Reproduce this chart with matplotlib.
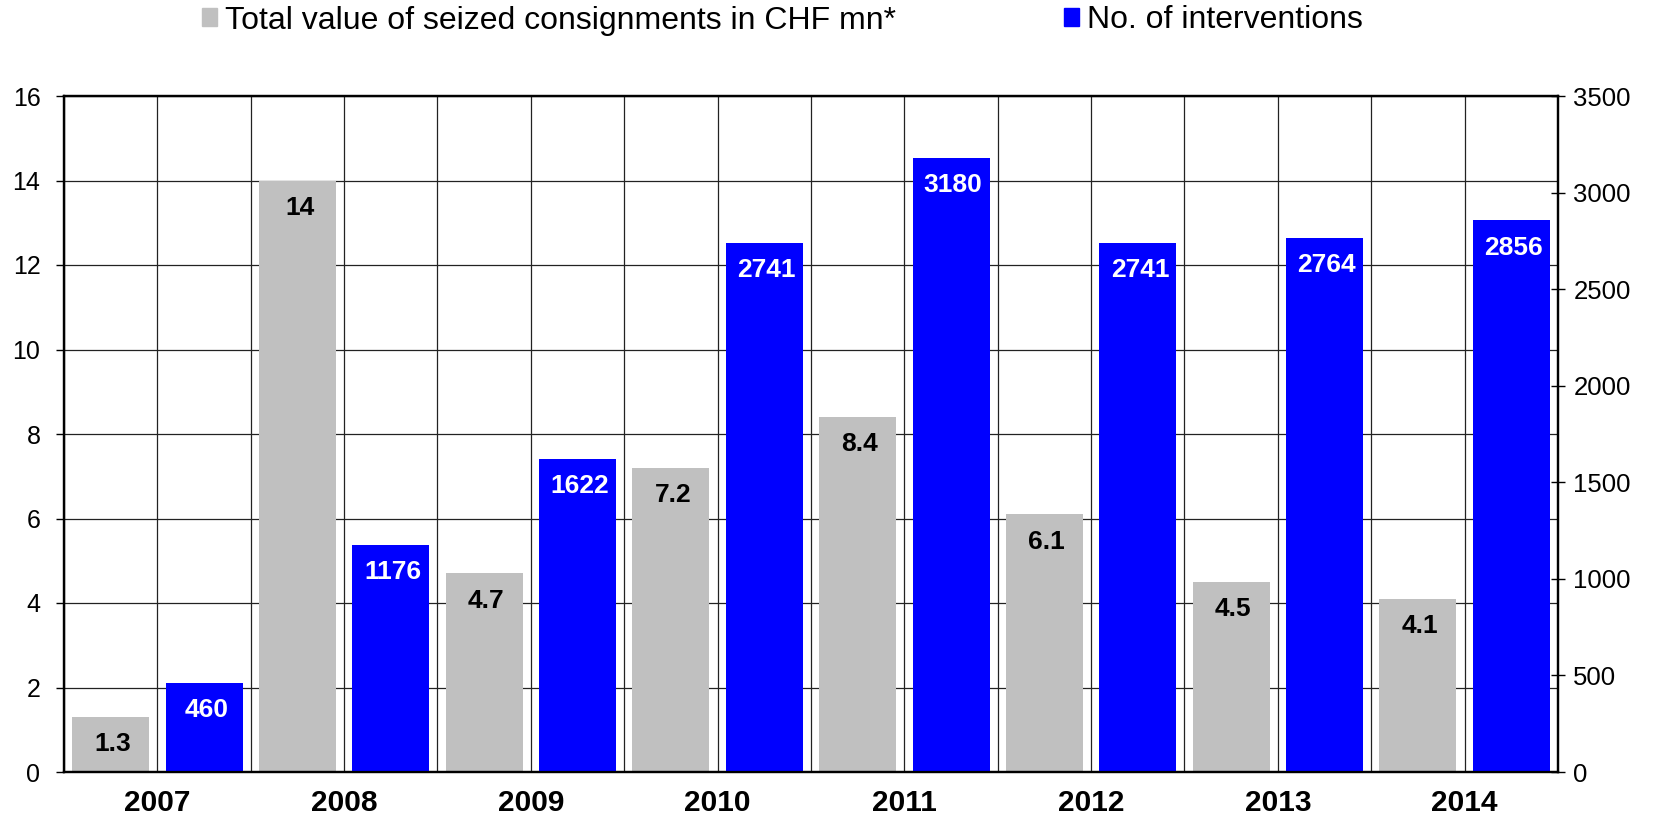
import numpy as np
import matplotlib
matplotlib.use('Agg')
import matplotlib.pyplot as plt
from matplotlib.patches import Patch

plt.rcParams['font.family'] = ['Liberation Sans', 'DejaVu Sans']

years = ['2007', '2008', '2009', '2010', '2011', '2012', '2013', '2014']
seized_value = [1.3, 14, 4.7, 7.2, 8.4, 6.1, 4.5, 4.1]
seized_labels = ['1.3', '14', '4.7', '7.2', '8.4', '6.1', '4.5', '4.1']
interventions = [460, 1176, 1622, 2741, 3180, 2741, 2764, 2856]

gray = '#c0c0c0'
blue = '#0000ff'

fig = plt.figure(figsize=(16.56, 8.17), dpi=100)
ax = fig.add_axes([64 / 1656, 1 - 772 / 817, 1494 / 1656, 676 / 817])
ax2 = ax.twinx()

x = np.arange(len(years))
w = 0.412

ax.bar(x - 0.25, seized_value, width=w, color=gray, zorder=2)
ax2.bar(x + 0.25, interventions, width=w, color=blue, zorder=2)

for xi, v, s in zip(x, seized_value, seized_labels):
    ax.annotate(s, (xi - 0.25, v), xytext=(1.5, -11), textcoords='offset points',
                ha='center', va='top', fontsize=19, fontweight='bold', color='black', zorder=3)
for xi, v in zip(x, interventions):
    ax2.annotate(str(v), (xi + 0.25, v), xytext=(1.5, -11), textcoords='offset points',
                 ha='center', va='top', fontsize=19, fontweight='bold', color='white', zorder=3)

ax.set_xlim(-0.5, len(years) - 0.5)
ax.set_ylim(0, 16)
ax2.set_ylim(0, 3500)
ax.set_yticks(np.arange(0, 17, 2))
ax2.set_yticks(np.arange(0, 3501, 500))

ax.set_xticks(x)
ax.set_xticklabels(years, fontsize=21.5, fontweight='bold')
ax.set_xticks(np.arange(-0.5, len(years), 1), minor=True)
ax.tick_params(axis='x', which='both', length=0, pad=12)
ax.tick_params(axis='y', direction='out', length=6, width=1, labelsize=18, pad=11)
ax2.tick_params(axis='y', direction='inout', length=10, width=1, labelsize=18.5, pad=6)

ax.set_axisbelow(True)
ax.grid(True, which='both', axis='x', color='#222222', linewidth=0.9)
ax.grid(True, which='major', axis='y', color='#222222', linewidth=0.9)

for a in (ax, ax2):
    for sp in a.spines.values():
        sp.set_linewidth(1.6)
        sp.set_color('black')

handles = [Patch(color=gray), Patch(color=blue)]
fig.legend(handles, ['Total value of seized consignments in CHF mn*', 'No. of interventions'],
           loc='center left', bbox_to_anchor=(202 / 1656, 1 - 20.5 / 817), ncol=2,
           frameon=False, fontsize=23, handlelength=0.47, handleheight=0.47,
           handletextpad=0.25, columnspacing=5.27, borderpad=0, borderaxespad=0)

fig.savefig('out.png', dpi=100)
